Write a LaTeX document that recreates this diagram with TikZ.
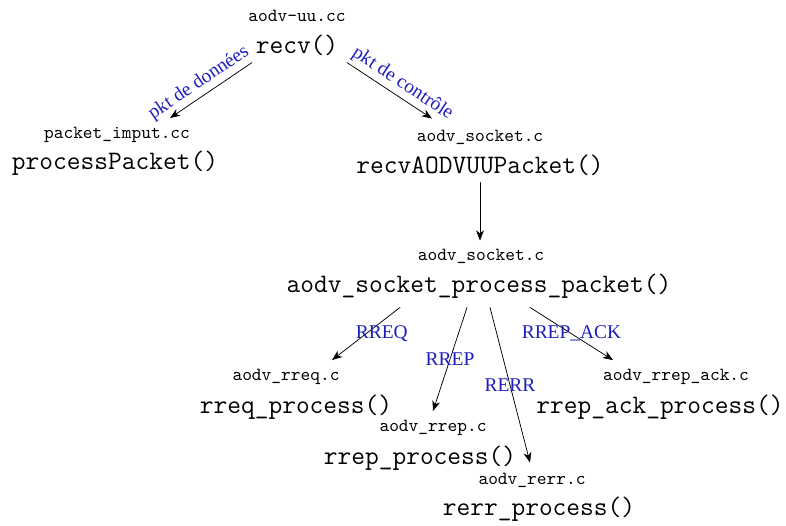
\documentclass[tikz,border=0pt]{standalone}
\usepackage{fontspec}
\newfontfamily\lblfont{Liberation Serif}
\usetikzlibrary{positioning,arrows.meta}
\definecolor{lblblue}{RGB}{30,30,185}
\tikzset{
  func/.style={font=\Large\ttfamily, inner sep=1pt},
  fich/.style={font=\normalsize\ttfamily, inner sep=1pt},
  lbl/.style={font=\lblfont\fontsize{10.5}{12}\selectfont, text=lblblue, inner sep=1pt}
}
\begin{document}
\begin{tikzpicture}[x=0.54pt,y=-0.54pt,line join=round,line cap=round,
  >={Stealth[length=5.5pt,width=4.2pt,inset=1.6pt]}]
 \useasboundingbox (0,0) rectangle (786,525);
 % niveau 1
 \node[fich] (fRecv) at (297,16) {aodv-uu.cc};
 \node[func] (recv) at (297,45) {recv()};
 % niveau 2
 \node[fich] (fPkt) at (117,135) {packet\_imput.cc};
 \node[func] (procPkt) at (115,163) {processPacket()};
 \node[fich] (fSockA) at (480,137) {aodv\_socket.c};
 \node[func] (recvAodv) at (480,165) {recvAODVUUPacket()};
 % niveau 3
 \node[fich] (fSockB) at (481,256) {aodv\_socket.c};
 \node[func] (sockProc) at (479,286) {aodv\_socket\_process\_packet()};
 % niveau 4
 \node[fich] (fRreq) at (286,377) {aodv\_rreq.c};
 \node[func] (rreqProc) at (296,407) {rreq\_process()};
 \node[fich] (fRrep) at (433,428) {aodv\_rrep.c};
 \node[func] (rrepProc) at (420,458) {rrep\_process()};
 \node[fich] (fRerr) at (532,480) {aodv\_rerr.c};
 \node[func] (rerrProc) at (539,509) {rerr\_process()};
 \node[fich] (fAck) at (676,377) {aodv\_rrep\_ack.c};
 \node[func] (ackProc) at (660,407) {rrep\_ack\_process()};
 % fleches
 \draw[->] ([shift={(-45,5)}]recv.south) -- ([shift={(53,-7)}]fPkt.north)
   node[lbl,pos=.56,sloped,above,inner sep=2pt] {pkt de données};
 \draw[->] ([shift={(50,5)}]recv.south) -- ([shift={(-48,-9)}]fSockA.north)
   node[lbl,pos=.57,sloped,above,inner sep=2pt] {pkt de contrôle};
 \draw[->] ([shift={(0,5)}]recvAodv.south) -- ([shift={(-1,-6)}]fSockB.north);
 \draw[->] ([shift={(-79,7)}]sockProc.south) -- ([shift={(46,-7)}]fRreq.north)
   node[lbl,midway,xshift=8.5pt] {RREQ};
 \draw[->] ([shift={(-12,7)}]sockProc.south) -- ([shift={(0,-7)}]fRrep.north)
   node[lbl,midway] {RREP};
 \draw[->] ([shift={(11,7)}]sockProc.south) -- ([shift={(-2,-8)}]fRerr.north)
   node[lbl,midway] {RERR};
 \draw[->] ([shift={(51,7)}]sockProc.south) -- ([shift={(-63,-7)}]fAck.north)
   node[lbl,midway] {RREP\_ACK};
\end{tikzpicture}
\end{document}
